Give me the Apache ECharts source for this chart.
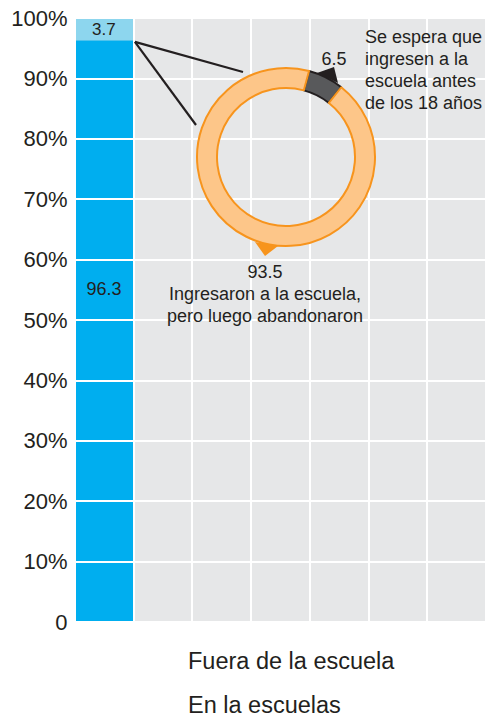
<!DOCTYPE html>
<html>
<head>
<meta charset="utf-8">
<script src="https://cdn.jsdelivr.net/npm/echarts@6/dist/echarts.min.js"></script>
<style>html,body{margin:0;padding:0;background:#fff}#c{width:486px;height:716px}</style>
</head>
<body>
<div id="c"></div>
<script>
// ---- data ----
var categories = ['A', 'B', 'C', 'D', 'E', 'F', 'G'];
var seriesNames = ['En la escuelas', 'Fuera de la escuela'];
var enLaEscuela = [96.3, '-', '-', '-', '-', '-', '-'];
var fueraDeLaEscuela = [3.7, '-', '-', '-', '-', '-', '-'];
var yTicks = [0, 10, 20, 30, 40, 50, 60, 70, 80, 90, 100];
var donutNames = ['Se espera que ingresen a la escuela antes de los 18 años', 'Ingresaron a la escuela, pero luego abandonaron'];
var donutValues = [6.5, 93.5];
var donutNote = ['Se espera que', 'ingresen a la', 'escuela antes', 'de los 18 años'];
var donutLabelLines = ['Ingresaron a la escuela,', 'pero luego abandonaron'];

var FONT = '"Liberation Sans", Arial, sans-serif';
var DARK = '#231f20';

var legendCommon = {
  orient: 'vertical', left: 183, padding: 0, itemWidth: 0, itemHeight: 0, icon: 'rect', selectedMode: false,
  textStyle: {fontSize: 23.5, lineHeight: 23, color: DARK, fontFamily: FONT}
};

var chart = echarts.init(document.getElementById('c'), null, {renderer: 'svg'});
var option = {
  animation: false,
  textStyle: {fontFamily: FONT, color: DARK},
  grid: {left: 74.5, top: 18, width: 424, height: 604, show: true, backgroundColor: '#e6e7e8', borderWidth: 0},
  legend: [
    Object.assign({}, legendCommon, {top: 648.5, data: [seriesNames[1]]}),
    Object.assign({}, legendCommon, {top: 692.5, data: [seriesNames[0]]})
  ],
  xAxis: {
    type: 'category', data: categories, z: 3,
    axisLine: {show: false}, axisTick: {show: false}, axisLabel: {show: false},
    splitLine: {show: true, interval: 0, lineStyle: {color: '#ffffff', width: 2}}
  },
  yAxis: {
    type: 'value', min: yTicks[0], max: yTicks[yTicks.length - 1], interval: yTicks[1] - yTicks[0], z: 3,
    axisLine: {show: false}, axisTick: {show: false},
    axisLabel: {fontSize: 22, color: DARK, margin: 7, fontFamily: FONT,
      formatter: function (v) { return v === 0 ? '0' : v + '%'; }},
    splitLine: {show: true, lineStyle: {color: '#ffffff', width: 2}}
  },
  series: [
    {
      name: seriesNames[0], type: 'bar', stack: 'a', barCategoryGap: '0%', data: enLaEscuela,
      itemStyle: {color: '#00aeef'},
      label: {show: true, position: 'inside', offset: [0, -42], fontSize: 18, color: DARK, fontFamily: FONT},
      emphasis: {disabled: true}
    },
    {
      name: seriesNames[1], type: 'bar', stack: 'a', barCategoryGap: '0%', data: fueraDeLaEscuela,
      itemStyle: {color: '#8dd6ee'},
      label: {show: true, position: 'inside', fontSize: 17, color: DARK, fontFamily: FONT},
      emphasis: {disabled: true}
    },
    {
      name: 'donut', type: 'pie', center: [286, 157], radius: [69, 89], startAngle: 75,
      clockwise: true, z: 5, emphasis: {disabled: true}, legendHoverLink: false,
      labelLine: {show: false},
      label: {
        show: true, fontFamily: FONT, color: DARK, overflow: 'none', width: 300,
        formatter: function (p) {
          if (p.dataIndex === 0) return '{v|' + p.value + '}';
          return '{v|' + p.value + '}\n{t|' + donutLabelLines.join('}\n{t|') + '}';
        },
        rich: {v: {fontSize: 18, lineHeight: 22, color: DARK, fontFamily: FONT, align: 'center'},
               t: {fontSize: 18, lineHeight: 22, color: DARK, fontFamily: FONT, align: 'center'}},
        align: 'center'
      },
      labelLayout: function (p) {
        if (p.dataIndex === 0) return {x: 334, y: 59, align: 'center', verticalAlign: 'middle'};
        return {x: 265, y: 294, align: 'center', verticalAlign: 'middle'};
      },
      data: [
        {name: donutNames[0], value: donutValues[0], itemStyle: {color: '#58595b', borderColor: DARK, borderWidth: 2}},
        {name: donutNames[1], value: donutValues[1], itemStyle: {color: '#fdc689', borderColor: '#f7941d', borderWidth: 2}}
      ]
    }
  ]
};
chart.setOption(option);

var p0 = chart.convertToPixel({xAxisIndex: 0, yAxisIndex: 0}, [0, enLaEscuela[0]]);
var sx = p0[0] + 31;
var sy = p0[1] + 1.5;
chart.setOption({
  graphic: [
    {type: 'line', z: 10, shape: {x1: sx, y1: sy, x2: 243, y2: 72}, style: {stroke: DARK, lineWidth: 2.2}},
    {type: 'line', z: 10, shape: {x1: sx, y1: sy, x2: 196, y2: 125}, style: {stroke: DARK, lineWidth: 2.2}},
    {type: 'polygon', z: 10, shape: {points: [[317, 73], [334, 67], [338, 83]]}, style: {fill: DARK}},
    {type: 'polygon', z: 10, shape: {points: [[255, 242], [265, 256], [278, 246]]}, style: {fill: '#f7941d'}},
    {type: 'text', z: 10, left: 365, top: 26,
      style: {text: donutNote.join('\n'), fontSize: 18, lineHeight: 22, fill: DARK, font: '18px ' + FONT}}
  ]
});
</script>
</body>
</html>
